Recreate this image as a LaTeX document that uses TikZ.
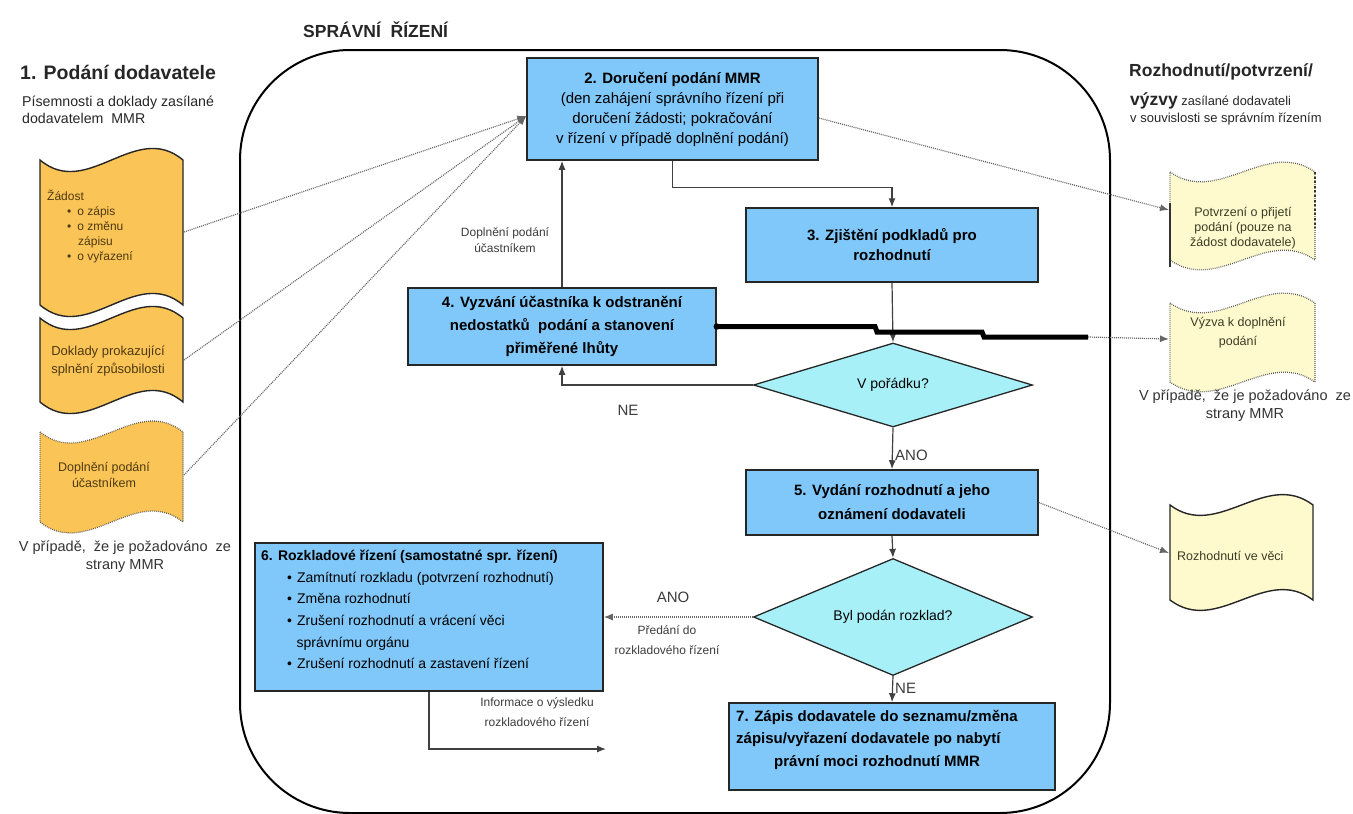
\documentclass[tikz,border=0pt]{standalone}
\usepackage{fontspec}
\setmainfont{Liberation Sans}
\usetikzlibrary{shapes.geometric,arrows.meta,calc}
\definecolor{boxblue}{RGB}{128,200,250}
\definecolor{diacyan}{RGB}{168,240,248}
\definecolor{docorange}{RGB}{250,196,86}
\definecolor{doccream}{RGB}{255,250,206}
\definecolor{doctxt}{RGB}{78,58,18}
\definecolor{rdoctxt}{RGB}{60,60,36}
\definecolor{lbltxt}{RGB}{60,60,60}
\newcommand\fs[2]{\fontsize{#1}{#2}\selectfont}
\newcommand\tapepath[5]{(#1,#2) .. controls ({#1+(#3-#1)/3},{#2+#5}) and ({#1+2*(#3-#1)/3},{#2-#5}) .. (#3,#2) -- (#3,#4) .. controls ({#1+2*(#3-#1)/3},{#4-#5}) and ({#1+(#3-#1)/3},{#4+#5}) .. (#1,#4) -- cycle}
\tikzset{
  proc/.style={draw=black!85, line width=1.5pt, fill=boxblue, inner sep=0pt, align=center},
  dec/.style={diamond, shape aspect=3.3, draw=black!85, line width=1.3pt, fill=diacyan, inner sep=0pt},
  arr/.style={line width=1.2pt, draw=black!75, -{Latex[length=9pt,width=7pt]}},
  dotarr/.style={line width=1.2pt, draw=black!60, dash pattern=on 1pt off 1pt, -{Latex[length=9pt,width=7pt]}},
  soliddoc/.style={draw=black!85, line width=1.4pt},
  dotdoc/.style={draw=black!65, line width=1.3pt, dash pattern=on 0.8pt off 1.2pt},
  lbl/.style={text=lbltxt, inner sep=0pt, align=center},
  hdr/.style={inner sep=0pt, anchor=west, text=black!85}
}
\begin{document}
\begin{tikzpicture}[x=1pt,y=-1pt]
\useasboundingbox (0,0) rectangle (1353,814);

% headers
\node[hdr, font=\bfseries\fs{17.5}{20}] (title) at (303,30) {SPRÁVNÍ\ \ ŘÍZENÍ};
\node[hdr, font=\bfseries\fs{19.5}{22}] (h1) at (20,72) {1. Podání dodavatele};
\node[hdr, font=\fs{14.2}{17}, align=left, anchor=north west] (h1s) at (22,96) {Písemnosti a doklady zasílané\\dodavatelem\ \ MMR};
\node[hdr, font=\bfseries\fs{17.5}{20}] (h2) at (1129,72) {Rozhodnutí/potvrzení/};
\node[hdr, font=\fs{12.8}{17}] (h2a) at (1130,101) {{\bfseries\fs{17.5}{20}výzvy} zasílané dodavateli};
\node[hdr, font=\fs{13}{17}] (h2b) at (1130,119) {v souvislosti se správním řízením};

% frame
\draw[line width=2pt, rounded corners=110pt] (240,50) rectangle (1110,813);

% left documents
\filldraw[soliddoc, fill=docorange] \tapepath{40}{160}{183}{305}{40};
\filldraw[soliddoc, fill=docorange] \tapepath{40}{318}{183}{402}{40};
\filldraw[dotdoc, fill=docorange] \tapepath{40}{432}{183}{522}{38};
\node[inner sep=0pt, anchor=north west, align=left, text=doctxt, font=\fs{12}{15}] (zad) at (47,190)
 {Žádost\\\hspace*{20pt}\textbullet\hspace{6pt}o zápis\\\hspace*{20pt}\textbullet\hspace{6pt}o změnu\\\hspace*{31pt}zápisu\\\hspace*{20pt}\textbullet\hspace{6pt}o vyřazení};
\node[inner sep=0pt, align=center, text=doctxt, font=\fs{13}{18}] (dok) at (108,361) {Doklady prokazující\\splnění způsobilosti};
\node[inner sep=0pt, align=center, text=doctxt, font=\fs{12.5}{16}] (dop) at (104,475) {Doplnění podání\\účastníkem};
\node[lbl, text=black!80, font=\fs{14.5}{18}] (noteL) at (125,557) {V případě,\ \ že je požadováno\ \ ze\\strany MMR};
\coordinate (d1c) at (184,232);
\coordinate (d2c) at (184,360);
\coordinate (d3c) at (184,475);

% right documents
\filldraw[dotdoc, fill=doccream] \tapepath{1170}{172}{1315}{260}{34};
\draw[line width=1.6pt, black!80] (1170,203) -- (1170,267);
\draw[line width=2.6pt, black!80, dash pattern=on 2pt off 2.6pt] (1315,172) -- (1315,228);
\filldraw[dotdoc, fill=doccream] \tapepath{1170}{303}{1315}{382}{34};
\filldraw[soliddoc, fill=doccream] \tapepath{1170}{505}{1313}{600}{36};
\node[inner sep=0pt, align=center, text=rdoctxt, font=\fs{12.5}{15}] (pott) at (1243,228) {Potvrzení o přijetí\\podání (pouze na\\žádost dodavatele)};
\node[inner sep=0pt, align=center, text=rdoctxt, font=\fs{12.5}{19}] (vyzt) at (1238,333) {Výzva k doplnění\\podání};
\node[inner sep=0pt, anchor=west, text=rdoctxt, font=\fs{12.5}{15}] (rozt) at (1177,556) {Rozhodnutí ve věci};
\node[lbl, text=black!80, font=\fs{14.5}{18}] (noteR) at (1245,406) {V případě,\ \ že je požadováno\ \ ze\\strany MMR};
\coordinate (pot) at (1169,210);
\coordinate (vyz) at (1169,339);
\coordinate (roz) at (1169,553);

% process boxes
\node[proc, minimum width=291pt, minimum height=102pt, font=\fs{15}{20}] (b2) at (672.5,109)
 {\textbf{2. Doručení podání MMR}\\(den zahájení správního řízení při\\doručení žádosti; pokračování\\v řízení v případě doplnění podání)};
\node[proc, minimum width=292pt, minimum height=74pt, font=\bfseries\fs{15}{20}] (b3) at (892,245) {3. Zjištění podkladů pro\\rozhodnutí};
\node[proc, minimum width=308pt, minimum height=77pt, font=\bfseries\fs{15}{23}] (b4) at (562,326.5) {4. Vyzvání účastníka k odstranění\\nedostatků\ \ podání a stanovení\\přiměřené lhůty};
\node[dec, minimum width=279pt, minimum height=84pt, font=\fs{14}{16}] (d1) at (893,385) {V pořádku?};
\node[proc, minimum width=292pt, minimum height=65pt, font=\bfseries\fs{15}{24}] (b5) at (892,502.5) {5. Vydání rozhodnutí a jeho\\oznámení dodavateli};
\node[dec, minimum width=279pt, minimum height=117pt, font=\fs{14}{16}] (d2) at (893,617) {Byl podán rozklad?};
\node[proc, minimum width=348pt, minimum height=148pt] (b6) at (429,617) {};
\node[inner sep=0pt, anchor=north west, align=left, font=\fs{14}{21.6}] (b6t) at (261,550)
 {{\bfseries 6. Rozkladové řízení (samostatné spr. řízení)}\\
 \hspace*{26pt}\textbullet\hspace{5pt}Zamítnutí rozkladu (potvrzení rozhodnutí)\\
 \hspace*{26pt}\textbullet\hspace{5pt}Změna rozhodnutí\\
 \hspace*{26pt}\textbullet\hspace{5pt}Zrušení rozhodnutí a vrácení věci\\
 \hspace*{35.5pt}správnímu orgánu\\
 \hspace*{26pt}\textbullet\hspace{5pt}Zrušení rozhodnutí a zastavení řízení};
\node[proc, minimum width=326pt, minimum height=87pt] (b7) at (892,746.5) {};
\node[inner sep=0pt, anchor=north west, align=left, font=\bfseries\fs{15}{22.5}] (b7t) at (736,710)
 {7. Zápis dodavatele do seznamu/změna\\zápisu/vyřazení dodavatele po nabytí\\\hspace*{38pt}právní moci rozhodnutí MMR};

% flow connectors
\draw[arr] (b2.south) -- ++(0,27) -| (b3.north);
\draw[arr] (b3.south) -- (d1.north);
\draw[arr] (d1.south) -- (b5.north);
\draw[arr] (b5.south) -- (d2.north);
\draw[arr] (d2.south) -- (b7.north);
\draw[arr] (d1.west) -| (b4.south);
\draw[arr] (b4.north) -- (b4.north |- b2.south);
\draw[dotarr] (d2.west) -- (b6.east);
\coordinate (infoend) at (606,749);
\draw[arr] (b6.south) |- (infoend);

% thick line to Výzva
\coordinate (thickend) at (1088,337);
\fill[black] (b4.east) circle (3.2pt);
\draw[line width=5pt, black] (b4.east) -- (875,326.5) -- (877,332) -- (982,332) -- (984,337) -- (thickend);
\draw[dotarr] (thickend) -- (vyz);

% dotted connectors
\draw[dotarr] (d1c) -- ([yshift=-7pt]b2.west);
\draw[dotarr] (d2c) -- ([yshift=-7pt]b2.west);
\draw[dotarr] (d3c) -- ([yshift=-7pt]b2.west);
\draw[dotarr] ([yshift=-9pt]b2.east) -- (pot);
\draw[dotarr] (b5.east) -- (roz);

% labels
\node[lbl, font=\fs{12}{16}] (l1) at (505,240) {Doplnění podání\\účastníkem};
\node[lbl, font=\fs{15}{17}] (l2) at (628,410) {NE};
\node[lbl, font=\fs{15}{17}, anchor=west] (l3) at (895,455) {ANO};
\node[lbl, font=\fs{15}{17}] (l4) at (673,597) {ANO};
\node[lbl, font=\fs{12}{20}] (l5) at (667,640) {Předání do\\rozkladového řízení};
\node[lbl, font=\fs{15}{17}, anchor=west] (l6) at (895,688) {NE};
\node[lbl, font=\fs{12}{20}] (l7) at (537,712) {Informace o výsledku\\rozkladového řízení};
\end{tikzpicture}
\end{document}
